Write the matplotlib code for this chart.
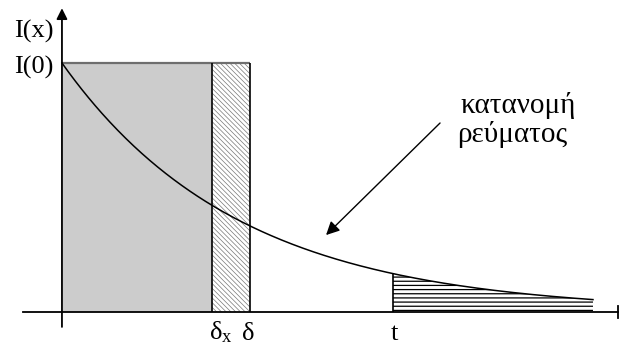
import numpy as np
import matplotlib
matplotlib.use('Agg')
import matplotlib.pyplot as plt
from matplotlib.patches import Rectangle

plt.rcParams['font.family'] = ['Liberation Serif', 'DejaVu Serif']
plt.rcParams['mathtext.fontset'] = 'custom'
plt.rcParams['mathtext.rm'] = 'Liberation Serif'
plt.rcParams['mathtext.it'] = 'Liberation Serif:italic'

# current distribution I(x) = I0 * exp(-x / L), x in units of L
I0 = 1.0
decay_len = 1.0
delta_x = 0.85
delta = 1.06
t_pos = 1.87
x_end = 3.0

axis_labels = ['I(x)', 'I(0)']
depth_labels = ['δ$_\\mathrm{x}$', 'δ', 't']
curve_label = ['κατανομή', 'ρεύματος']

x = np.linspace(0, x_end, 400)
I = I0 * np.exp(-x / decay_len)

fig = plt.figure(figsize=(6.19, 3.47), dpi=100)
ax = fig.add_axes([0, 0, 1, 1])
ax.set_xlim(-0.350, 3.147)
ax.set_ylim(-0.1406, 1.253)
ax.axis('off')

# shaded block 0..δx and finely hatched strip δx..δ
ax.add_patch(Rectangle((0, 0), delta_x, I0, facecolor='#cccccc', edgecolor='none'))
plt.rcParams['hatch.linewidth'] = 0.5
ax.add_patch(Rectangle((delta_x, 0), delta - delta_x, I0, facecolor='white',
                       edgecolor='#777777', linewidth=0, hatch='\\\\\\\\\\\\\\'))
ax.hlines(I0, 0, delta, color='#6e6e6e', lw=1.6)
ax.vlines([delta_x, delta], 0, I0, color='black', lw=1.2)

# tail of the distribution beyond t, horizontal hatching
plt.rcParams['hatch.linewidth'] = 0.9
tail = x >= t_pos
xt = np.concatenate([[t_pos], x[tail], [x_end, t_pos]])
yt = np.concatenate([[I0 * np.exp(-t_pos / decay_len)], I[tail], [0, 0]])
ax.fill(xt, yt, facecolor='none', edgecolor='black', linewidth=0, hatch='----')
ax.vlines(t_pos, 0, I0 * np.exp(-t_pos / decay_len), color='black', lw=1.2)

ax.plot(x, I, color='black', lw=1.1)

# axes with arrow on y
ax.plot([-0.22, 3.14], [0, 0], color='black', lw=1.3)
ax.plot([3.14, 3.14], [-0.025, 0.025], color='black', lw=1.3)
ax.annotate('', xy=(0, 1.22), xytext=(0, -0.06),
            arrowprops=dict(arrowstyle='-|>', mutation_scale=16, lw=1.3,
                            color='black', shrinkA=0, shrinkB=0))

fs = 19
ax.text(-0.05, 1.104, axis_labels[0], ha='right', va='baseline', fontsize=fs)
ax.text(-0.05, 0.956, axis_labels[1], ha='right', va='baseline', fontsize=fs)

ax.text(delta_x + 0.05, -0.112, depth_labels[0], ha='center', va='baseline', fontsize=fs)
ax.text(delta - 0.01, -0.112, depth_labels[1], ha='center', va='baseline', fontsize=fs)
ax.text(t_pos + 0.01, -0.112, depth_labels[2], ha='center', va='baseline', fontsize=fs)

ax.text(2.576, 0.799, curve_label[0], ha='center', va='baseline', fontsize=21)
ax.text(2.542, 0.683, curve_label[1], ha='center', va='baseline', fontsize=21)

ax.annotate('', xy=(1.492, 0.309), xytext=(2.136, 0.759),
            arrowprops=dict(arrowstyle='-|>', mutation_scale=20, lw=1.0,
                            color='black', shrinkA=0, shrinkB=0))

fig.savefig('out.png', dpi=100)
